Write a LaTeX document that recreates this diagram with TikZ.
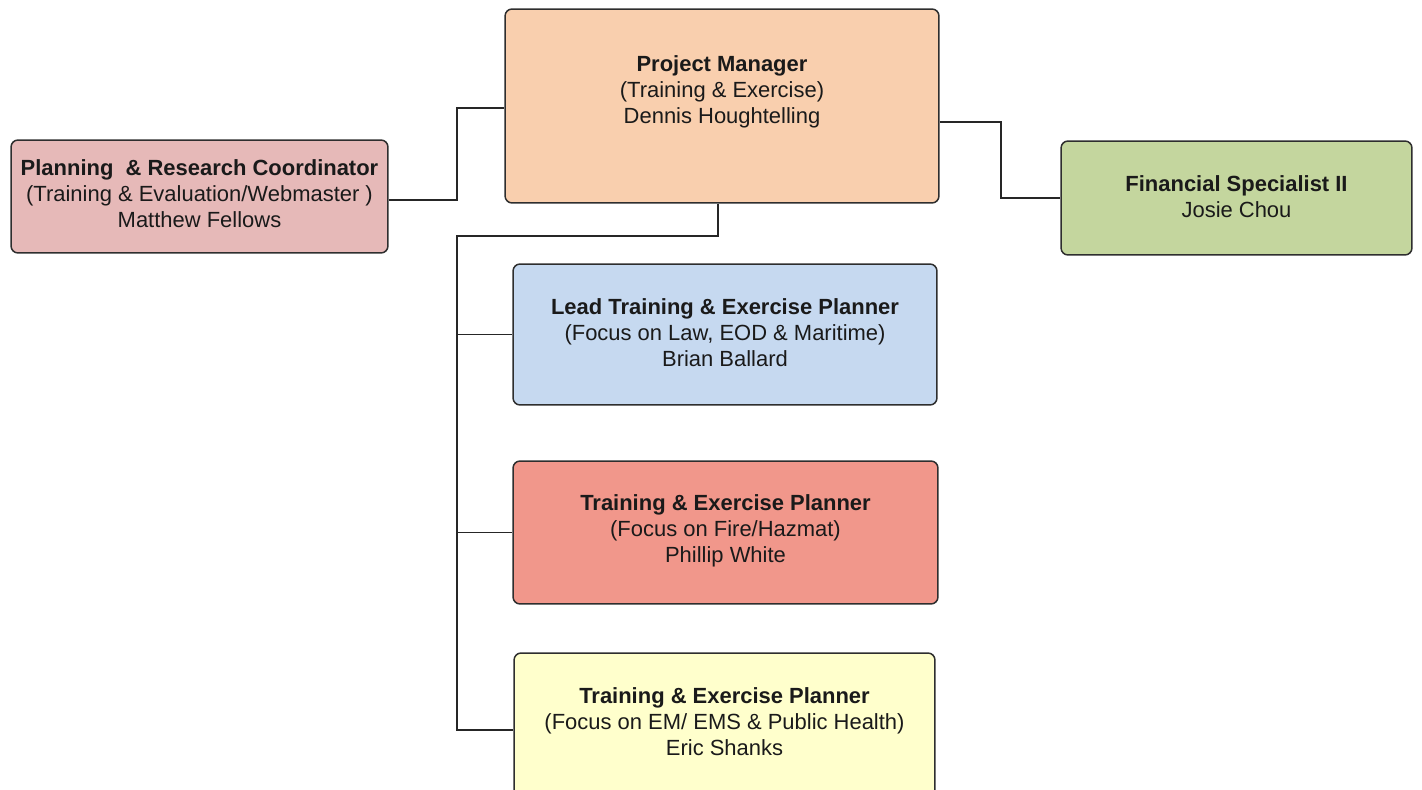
\documentclass[tikz,border=0pt]{standalone}
\usepackage{fontspec}
\setmainfont{Liberation Sans}
\usetikzlibrary{positioning,calc}
\definecolor{peach}{HTML}{F9CFAE}
\definecolor{rosy}{HTML}{E6B9B8}
\definecolor{sage}{HTML}{C4D69E}
\definecolor{skyblue}{HTML}{C6D9F0}
\definecolor{salmon}{HTML}{F1978B}
\definecolor{cream}{HTML}{FFFFCC}
\definecolor{boxline}{HTML}{2E2E2E}
\definecolor{ink}{HTML}{1A1A1A}
\tikzset{
  orgbox/.style={draw=boxline,line width=0.85pt,rounded corners=4pt,inner sep=0pt},
  orgtext/.style={align=center,text=ink,font=\fontsize{12.5}{14.8}\selectfont},
  link/.style={draw=black!85,line width=0.6pt}
}

\begin{document}
\begin{tikzpicture}[x=0.02cm,y=-0.02cm]
  \useasboundingbox (0,0) rectangle (1422,790);
  \clip (0,0) rectangle (1422,790);

  % boxes
  \node[orgbox,fill=peach,minimum width=8.68cm,minimum height=3.88cm] (pm) at (722,106) {};
  \node[orgbox,fill=rosy,minimum width=7.54cm,minimum height=2.26cm] (pl) at (199.5,196.5) {};
  \node[orgbox,fill=sage,minimum width=7.02cm,minimum height=2.28cm] (fs) at (1236.5,198) {};
  \node[orgbox,fill=skyblue,minimum width=8.48cm,minimum height=2.82cm] (ld) at (725,334.5) {};
  \node[orgbox,fill=salmon,minimum width=8.5cm,minimum height=2.86cm] (fh) at (725.5,532.5) {};
  \node[orgbox,fill=cream,minimum width=8.42cm,minimum height=3.08cm] (em) at (724.5,730) {};

  % texts
  \node[orgtext] (pmtext) at (722,92) {\textbf{Project Manager}\\(Training \& Exercise)\\Dennis Houghtelling};
  \node[orgtext] (pltext) at (199.5,194) {\textbf{Planning~ \& Research Coordinator}\\(Training \& Evaluation/Webmaster )\\Matthew Fellows};
  \node[orgtext] (fstext) at (1236.5,197) {\textbf{Financial Specialist II}\\Josie Chou};
  \node[orgtext] (ldtext) at (725,333) {\textbf{Lead Training \& Exercise Planner}\\(Focus on Law, EOD \& Maritime)\\Brian Ballard};
  \node[orgtext] (fhtext) at (725.5,531) {\textbf{Training \& Exercise Planner}\\(Focus on Fire/Hazmat)\\Phillip White};
  \node[orgtext] (emtext) at (724.5,722) {\textbf{Training \& Exercise Planner}\\(Focus on EM/ EMS \& Public Health)\\Eric Shanks};

  % connectors
  \coordinate (trunk) at (457,236);
  \coordinate (fsbend) at (1001,198);
  \draw[link] ($(pl.east)+(0,3.5)$) -- ($(pl.east -| trunk)+(0,3.5)$) |- ($(pm.west)+(0,2)$);
  \draw[link] ($(pm.east)+(0,16)$) -| (fsbend |- fs.west) -- (fs.west);
  \draw[link] ($(pm.south)+(-4,0)$) |- (trunk) -- (trunk |- em.west) -- (em.west);
  \foreach \b in {ld,fh}
    \draw[link] (trunk |- \b.west) -- (\b.west);
\end{tikzpicture}
\end{document}
